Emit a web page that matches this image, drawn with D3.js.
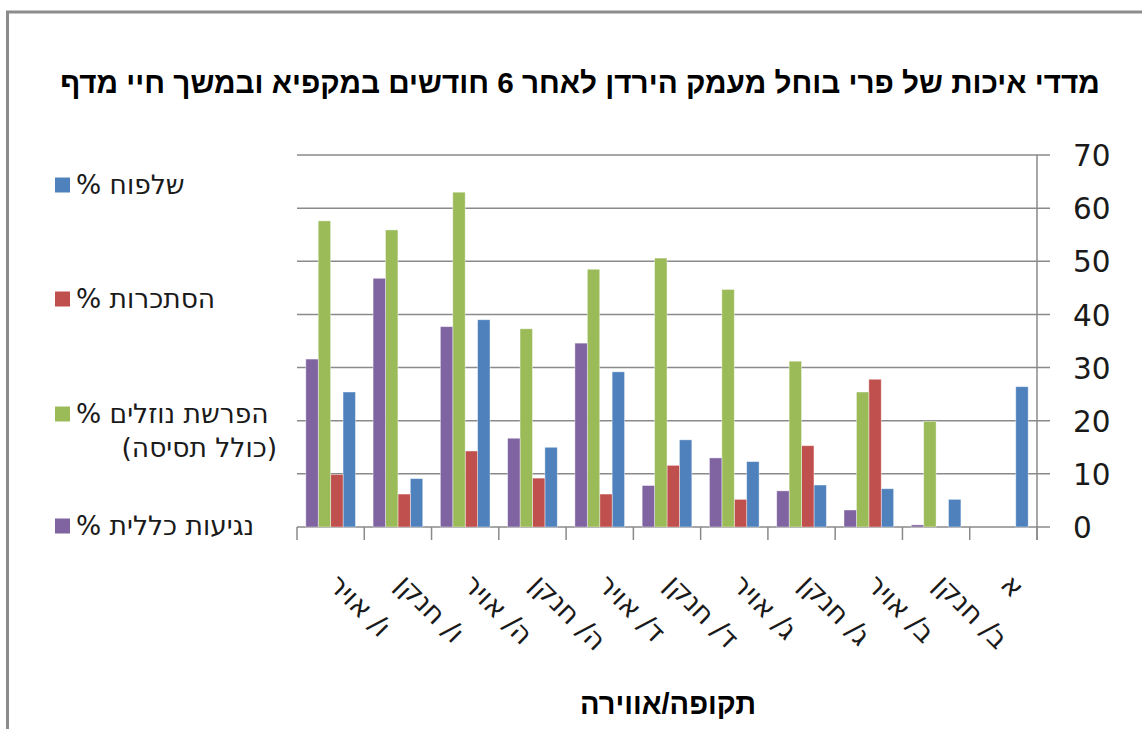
<!DOCTYPE html>
<html><head><meta charset="utf-8">
<script src="https://cdn.jsdelivr.net/npm/d3@7"></script>
<style>body{margin:0;background:#fff}svg{display:block}</style>
</head><body>
<svg id="c" width="1142" height="729"></svg>
<script>
// Categories in logical (right-to-left) order
const categories = ["א","ב/ חנקן","ב/ אויר","ג/ חנקן","ג/ אויר","ד/ חנקן","ד/ אויר","ה/ חנקן","ה/ אויר","ו/ חנקן","ו/ אויר"];
const seriesNames = ["% שלפוח","% הסתכרות","% הפרשת נוזלים","% נגיעות כללית"];
const seriesNameLine2 = ["","","(כולל תסיסה)",""];
const seriesColors = ["#4F81BD","#C0504D","#9BBB59","#8064A2"];
const blisterVals = [26.4,5.2,7.2,7.9,12.3,16.4,29.2,15.0,39.0,9.1,25.4];
const sweatVals   = [0,0,27.8,15.3,5.2,11.6,6.2,9.2,14.3,6.2,9.9];
const leakVals    = [0,19.9,25.4,31.2,44.7,50.6,48.5,37.3,63.0,55.9,57.6];
const infectVals  = [0,0.4,3.2,6.8,13.0,7.8,34.6,16.7,37.7,46.8,31.6];
const seriesValues = [blisterVals, sweatVals, leakVals, infectVals];
const yTicks = [0,10,20,30,40,50,60,70];
const titleText = "מדדי איכות של פרי בוחל מעמק הירדן לאחר 6 חודשים במקפיא ובמשך חיי מדף";
const xTitleText = "תקופה/אווירה";

const svg = d3.select("#c");
const L = 297, R = 1037, T = 155, B = 527;
const gridColor = "#8a8a8a";

// frame
svg.append("rect").attr("x",7.5).attr("y",12).attr("width",1160).attr("height",740)
  .attr("fill","none").attr("stroke","#8c8c8c").attr("stroke-width",3);

const x0 = d3.scaleBand().domain(categories).range([R, L]).padding(0);
const x1 = d3.scaleBand().domain(seriesNames).range([x0.bandwidth(), 0]).paddingOuter(0.71).paddingInner(0);
const y = d3.scaleLinear().domain([0,70]).range([B, T]);

// gridlines
svg.append("g").selectAll("line").data(yTicks).join("line")
  .attr("x1",L).attr("x2",R+13).attr("y1",d=>y(d)).attr("y2",d=>y(d))
  .attr("stroke",gridColor).attr("stroke-width",1.5);

// right axis
const yAxis = d3.axisRight(y).tickValues(yTicks).tickSize(0).tickPadding(36);
const gy = svg.append("g").attr("transform",`translate(${R},0)`).call(yAxis);
gy.select(".domain").remove();
gy.append("line").attr("x1",0).attr("x2",0).attr("y1",T).attr("y2",B+13).attr("stroke",gridColor).attr("stroke-width",1.5);
gy.selectAll("text").attr("font-family","DejaVu Sans").attr("font-size",29.5).attr("fill","#1a1a1a").attr("dy","0.36em");

// bottom axis ticks at band boundaries
const bounds = categories.map(c=>x0(c)).concat([R]);
svg.append("g").selectAll("line").data(bounds).join("line")
  .attr("x1",d=>d).attr("x2",d=>d).attr("y1",B).attr("y2",B+13)
  .attr("stroke",gridColor).attr("stroke-width",1.5);

// bars
const groups = svg.append("g").selectAll("g").data(categories).join("g")
  .attr("transform",c=>`translate(${x0(c)},0)`);
groups.selectAll("rect").data((c,i)=>seriesNames.map((s,j)=>({s,j,v:seriesValues[j][i]}))).join("rect")
  .attr("x",d=>x1(d.s)).attr("width",x1.bandwidth())
  .attr("y",d=>y(d.v)).attr("height",d=>B-y(d.v))
  .attr("fill",d=>seriesColors[d.j])
  .attr("stroke","rgba(255,255,255,0.5)").attr("stroke-width",0.8);

// category labels
svg.append("g").selectAll("text").data(categories).join("text")
  .attr("transform",c=>`translate(${x0(c)+x0.bandwidth()/2-4},586) rotate(45)`)
  .attr("font-family","DejaVu Sans").attr("font-size",28).attr("fill","#1a1a1a")
  .attr("text-anchor","start").text(c=>c);

// title
svg.append("text").attr("x",580).attr("y",93).attr("text-anchor","middle")
  .attr("font-family","Liberation Sans, Arial").attr("font-weight","bold").attr("font-size",29.7)
  .attr("fill","#000").text(titleText);

// x axis title
svg.append("text").attr("x",668).attr("y",714).attr("text-anchor","middle")
  .attr("font-family","Liberation Sans, Arial").attr("font-weight","bold").attr("font-size",29)
  .attr("fill","#000").text(xTitleText);

// legend
const legY = [185, 299, 414, 526];
const lg = svg.append("g").selectAll("g").data(seriesNames).join("g")
  .attr("transform",(d,i)=>`translate(0,${legY[i]})`);
lg.append("rect").attr("x",55).attr("y",-7.5).attr("width",15).attr("height",15)
  .attr("fill",(d,i)=>seriesColors[i]);
lg.append("text").attr("x",76).attr("y",9).attr("font-family","DejaVu Sans").attr("font-size",26.5)
  .attr("fill","#1a1a1a").text(d=>d);
lg.filter((d,i)=>seriesNameLine2[i]).append("text").attr("x",277).attr("y",43).attr("text-anchor","end")
  .attr("font-family","DejaVu Sans").attr("font-size",26.5).attr("fill","#1a1a1a")
  .text((d,i)=>seriesNameLine2[seriesNames.indexOf(d)]);
</script>
</body></html>
